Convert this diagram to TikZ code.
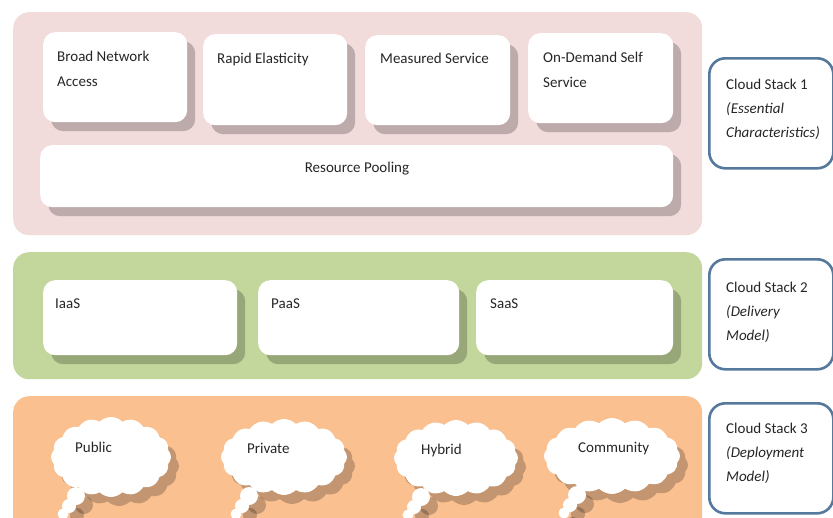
\documentclass[tikz,border=0pt]{standalone}
\usepackage{fontspec}
\setmainfont{Carlito}
\usetikzlibrary{shapes.symbols, shadows, positioning, calc}

\definecolor{stackpink}{HTML}{F2DCDB}
\definecolor{stackgreen}{HTML}{C3D69B}
\definecolor{stackorange}{HTML}{FAC090}
\definecolor{stackblue}{HTML}{55799C}
\definecolor{textgrey}{HTML}{262626}

\tikzset{
  panel/.style={rounded corners=16pt, anchor=north west, inner sep=0pt},
  softshadow/.style={drop shadow={shadow xshift=8pt, shadow yshift=-9pt, opacity=0.22, fill=black}},
  featbox/.style={fill=white, rounded corners=12pt, anchor=north west, inner sep=0pt, softshadow},
  stackbox/.style={draw=stackblue, line width=2.6pt, fill=white, rounded corners=16pt, anchor=north west, inner sep=0pt},
  bubble/.style={cloud, cloud puffs=16, cloud puff arc=90, fill=white, inner sep=0pt, softshadow},
  boxtext/.style={font=\fontsize{15}{25}\selectfont, text=textgrey, align=left, anchor=base west, inner sep=0pt},
  stacktext/.style={font=\fontsize{15}{24}\selectfont, text=textgrey, align=left, anchor=west, inner sep=0pt}
}

\begin{document}
\begin{tikzpicture}[x=1pt, y=-1pt]
    \useasboundingbox (0,0) rectangle (833,517);

    % Stack panels
    \node[panel, fill=stackpink, minimum width=689pt, minimum height=223pt] (pinkpanel) at (13,12) {};
    \node[panel, fill=stackgreen, minimum width=689pt, minimum height=127pt] (greenpanel) at (13,252) {};
    \node[panel, fill=stackorange, minimum width=689pt, minimum height=150pt] (orangepanel) at (13,396) {};

    % Stack 1: essential characteristics
    \node[featbox, minimum width=144pt, minimum height=90pt] (bna) at (43,32) {};
    \node[featbox, minimum width=144pt, minimum height=91pt] (rel) at (203,34) {};
    \node[featbox, minimum width=145pt, minimum height=90pt] (msv) at (365,35) {};
    \node[featbox, minimum width=145pt, minimum height=90pt] (ods) at (528,33) {};
    \node[featbox, minimum width=633pt, minimum height=62pt] (rpo) at (40,145) {};

    \node[boxtext] at (57,86) {Broad Network\\Access};
    \node[boxtext] at (217,63) {Rapid Elasticity};
    \node[boxtext] at (380,63) {Measured Service};
    \node[boxtext] at (543,87) {On-Demand Self\\Service};
    \node[boxtext, anchor=base] at (357,172) {Resource Pooling};

    % Stack 2: delivery model
    \node[featbox, minimum width=194pt, minimum height=75pt] (iaas) at (43,280) {};
    \node[featbox, minimum width=201pt, minimum height=75pt] (paas) at (258,280) {};
    \node[featbox, minimum width=197pt, minimum height=75pt] (saas) at (476,280) {};

    \node[boxtext] at (55,308) {IaaS};
    \node[boxtext] at (271,308) {PaaS};
    \node[boxtext] at (490,308) {SaaS};

    % Stack 3: deployment model
    \node[bubble, minimum width=120pt, minimum height=80pt] (pub) at (111,457) {};
    \node[bubble, minimum width=126pt, minimum height=76pt] (pri) at (284,457) {};
    \node[bubble, minimum width=124pt, minimum height=76pt] (hyb) at (456,458) {};
    \node[bubble, minimum width=136pt, minimum height=76pt] (com) at (612,456) {};

    \foreach \b in {pub, pri, hyb, com} {
        \fill[white, softshadow] ([shift={(-35,39)}]\b.center) circle (9pt);
        \fill[white, softshadow] ([shift={(-42,49)}]\b.center) circle (7pt);
        \fill[white, softshadow] ([shift={(-48,57)}]\b.center) circle (5.5pt);
    }

    \node[boxtext] at (75,452) {Public};
    \node[boxtext] at (247,453) {Private};
    \node[boxtext] at (421,454) {Hybrid};
    \node[boxtext] at (578,452) {Community};

    % Stack labels
    \node[stackbox, minimum width=124pt, minimum height=110pt] (cs1) at (708,57) {};
    \node[stackbox, minimum width=124pt, minimum height=110pt] (cs2) at (708,258) {};
    \node[stackbox, minimum width=124pt, minimum height=110pt] (cs3) at (708,402) {};

    \node[stacktext] at ([shift={(18,-4)}]cs1.west) {Cloud Stack 1\\\textit{(Essential}\\\textit{Characteristics)}};
    \node[stacktext] at ([shift={(18,-2)}]cs2.west) {Cloud Stack 2\\\textit{(Delivery}\\\textit{Model)}};
    \node[stacktext] at ([shift={(18,-5)}]cs3.west) {Cloud Stack 3\\\textit{(Deployment}\\\textit{Model)}};
\end{tikzpicture}
\end{document}
